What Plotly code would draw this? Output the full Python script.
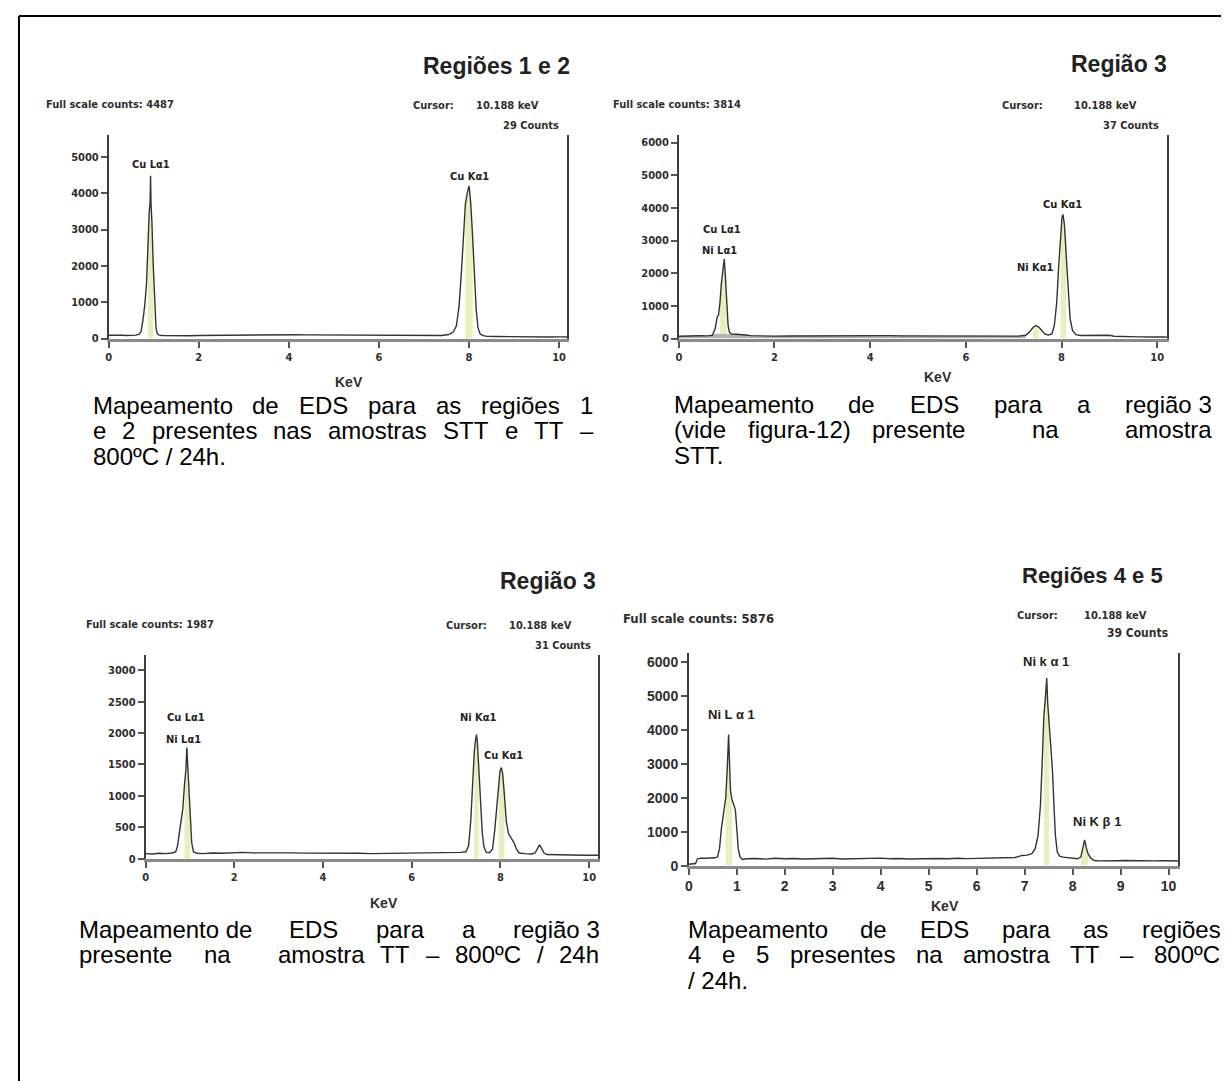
import re
import plotly.graph_objects as go
import numpy as np

W, H = 1229, 1081

# ---------------- data (keV, counts) ----------------
spectrum_1 = [(0.00, 90), (0.10, 95), (0.20, 88), (0.30, 92), (0.40, 85), (0.50, 90), (0.60, 95),
              (0.68, 120), (0.72, 200), (0.76, 500), (0.80, 900), (0.84, 1500), (0.87, 2600),
              (0.90, 3500), (0.92, 3750), (0.93, 4480), (0.94, 3700), (0.96, 3200), (0.99, 2000),
              (1.02, 900), (1.05, 300), (1.08, 130), (1.12, 95), (1.20, 85), (1.40, 80), (1.60, 82),
              (1.80, 78), (2.00, 85), (2.20, 88), (2.40, 92), (2.60, 95), (2.80, 100), (3.00, 105),
              (3.20, 110), (3.40, 108), (3.60, 112), (3.80, 105), (4.00, 110), (4.20, 104),
              (4.40, 100), (4.60, 98), (4.80, 95), (5.00, 92), (5.20, 90), (5.40, 88), (5.60, 86),
              (5.80, 84), (6.00, 82), (6.20, 80), (6.40, 80), (6.60, 78), (6.80, 76), (7.00, 75),
              (7.20, 78), (7.40, 85), (7.55, 110), (7.65, 180), (7.72, 350), (7.78, 900),
              (7.83, 1800), (7.88, 2900), (7.92, 3700), (7.96, 4000), (7.99, 4150), (8.00, 4200),
              (8.01, 4100), (8.04, 3700), (8.08, 2800), (8.12, 1700), (8.16, 800), (8.20, 300),
              (8.25, 120), (8.32, 80), (8.40, 60), (8.60, 55), (8.80, 50), (9.00, 52), (9.20, 48),
              (9.40, 45), (9.60, 47), (9.80, 44), (10.00, 45), (10.18, 43)]

spectrum_2 = [(0.00, 70), (0.15, 80), (0.30, 75), (0.45, 85), (0.60, 80), (0.70, 100), (0.76, 300),
              (0.80, 650), (0.83, 720), (0.86, 1100), (0.89, 1700), (0.92, 2050), (0.95, 2430),
              (0.97, 2000), (1.00, 1100), (1.03, 400), (1.06, 180), (1.10, 140), (1.20, 130),
              (1.30, 125), (1.40, 110), (1.50, 90), (1.70, 80), (2.00, 75), (2.30, 78), (2.60, 80),
              (2.90, 90), (3.20, 95), (3.50, 100), (3.80, 95), (4.10, 92), (4.40, 88), (4.70, 82),
              (5.00, 80), (5.30, 78), (5.60, 76), (5.90, 75), (6.20, 74), (6.50, 72), (6.80, 72),
              (7.10, 75), (7.25, 100), (7.33, 200), (7.40, 330), (7.46, 400), (7.52, 360),
              (7.58, 250), (7.65, 140), (7.72, 110), (7.80, 140), (7.85, 400), (7.90, 1100),
              (7.94, 2200), (7.98, 3200), (8.01, 3700), (8.03, 3800), (8.06, 3500), (8.10, 2500),
              (8.14, 1400), (8.18, 600), (8.23, 250), (8.30, 120), (8.40, 95), (8.60, 100),
              (8.80, 110), (9.00, 100), (9.10, 70), (9.30, 55), (9.60, 50), (9.90, 48), (10.20, 46)]

spectrum_3 = [(0.00, 80), (0.15, 75), (0.30, 85), (0.45, 80), (0.60, 90), (0.68, 110), (0.72, 200),
              (0.76, 400), (0.80, 560), (0.84, 800), (0.88, 1200), (0.91, 1420), (0.93, 1770),
              (0.95, 1450), (0.98, 1100), (1.01, 600), (1.04, 250), (1.08, 110), (1.15, 85),
              (1.30, 80), (1.50, 90), (1.70, 85), (2.00, 95), (2.20, 100), (2.40, 92), (2.70, 95),
              (3.00, 90), (3.30, 92), (3.60, 88), (3.90, 90), (4.20, 86), (4.50, 88), (4.80, 85),
              (5.10, 80), (5.40, 82), (5.70, 80), (6.00, 84), (6.30, 86), (6.60, 88), (6.90, 95),
              (7.10, 100), (7.22, 110), (7.28, 200), (7.33, 600), (7.37, 1200), (7.41, 1700),
              (7.44, 1900), (7.46, 1975), (7.48, 1850), (7.51, 1500), (7.55, 900), (7.59, 400),
              (7.63, 180), (7.68, 100), (7.75, 95), (7.82, 150), (7.87, 450), (7.92, 900),
              (7.96, 1250), (7.99, 1400), (8.02, 1450), (8.05, 1350), (8.09, 1000), (8.13, 600),
              (8.18, 400), (8.24, 320), (8.30, 260), (8.36, 150), (8.42, 90), (8.55, 80),
              (8.70, 75), (8.78, 90), (8.83, 160), (8.88, 220), (8.93, 160), (8.98, 90),
              (9.05, 65), (9.30, 60), (9.60, 58), (9.90, 55), (10.20, 55)]

spectrum_4 = [(0.00, 40), (0.08, 50), (0.14, 60), (0.18, 200), (0.25, 220), (0.35, 215), (0.45, 225),
              (0.55, 230), (0.60, 260), (0.64, 500), (0.68, 1100), (0.71, 1400), (0.74, 1600),
              (0.77, 2000), (0.80, 2800), (0.83, 3860), (0.85, 3000), (0.87, 2200), (0.90, 1950),
              (0.94, 1800), (0.97, 1650), (1.00, 1100), (1.03, 500), (1.07, 250), (1.12, 180),
              (1.20, 200), (1.40, 210), (1.60, 190), (1.80, 215), (2.00, 200), (2.20, 210),
              (2.40, 195), (2.60, 205), (2.80, 200), (3.00, 215), (3.20, 195), (3.40, 205),
              (3.60, 200), (3.80, 210), (4.00, 220), (4.20, 200), (4.40, 210), (4.60, 195),
              (4.80, 205), (5.00, 200), (5.20, 210), (5.40, 200), (5.60, 215), (5.80, 205),
              (6.00, 210), (6.20, 220), (6.40, 215), (6.60, 230), (6.80, 240), (6.95, 300),
              (7.05, 310), (7.15, 350), (7.22, 500), (7.28, 900), (7.33, 1800), (7.37, 3200),
              (7.40, 4400), (7.43, 4900), (7.46, 5530), (7.48, 4800), (7.51, 4200), (7.55, 3650),
              (7.58, 2800), (7.61, 1800), (7.64, 900), (7.68, 400), (7.73, 280), (7.80, 250),
              (7.90, 240), (8.00, 220), (8.10, 200), (8.17, 250), (8.22, 600), (8.25, 760),
              (8.28, 550), (8.32, 350), (8.38, 220), (8.45, 150), (8.55, 140), (8.70, 150),
              (8.90, 145), (9.10, 150), (9.30, 140), (9.50, 145), (9.70, 140), (9.90, 145),
              (10.10, 140), (10.25, 135)]

# peak windows (centre keV) marked with the pale yellow band
roi_1 = [0.93, 8.00]
roi_2 = [0.93, 7.46, 8.03]
roi_3 = [0.93, 7.46, 8.02]
roi_4 = [0.84, 7.46, 8.25]

# peak labels: (text, keV, counts)
labels_1 = [("Cu Lα1", 0.93, 4780), ("Cu Kα1", 8.0, 4450)]
labels_2 = [("Cu Lα1", 0.90, 3340), ("Ni Lα1", 0.84, 2700), ("Cu Kα1", 8.02, 4100), ("Ni Kα1", 7.46, 2160)]
labels_3 = [("Cu Lα1", 0.92, 2240), ("Ni Lα1", 0.85, 1900), ("Ni Kα1", 7.50, 2240), ("Cu Kα1", 8.06, 1640)]
labels_4 = [("Ni L α 1", 0.89, 4440), ("Ni k α 1", 7.44, 6020), ("Ni K β 1", 8.50, 1290)]

titles = ["Regiões 1 e 2", "Região 3", "Região 3", "Regiões 4 e 5"]
full_scale = ["Full scale counts: 4487", "Full scale counts: 3814", "Full scale counts: 1987", "Full scale counts: 5876"]
cursor_kev = ["10.188 keV", "10.188 keV", "10.188 keV", "10.188 keV"]
cursor_counts = ["29 Counts", "37 Counts", "31 Counts", "39 Counts"]

y_ticks_1 = [0, 1000, 2000, 3000, 4000, 5000]
y_ticks_2 = [0, 1000, 2000, 3000, 4000, 5000, 6000]
y_ticks_3 = [0, 500, 1000, 1500, 2000, 2500, 3000]
y_ticks_4 = [0, 1000, 2000, 3000, 4000, 5000, 6000]
x_ticks_even = [0, 2, 4, 6, 8, 10]
x_ticks_all = [0, 1, 2, 3, 4, 5, 6, 7, 8, 9, 10]

# captions (justified lines; runs of spaces are stretched in proportion to their length,
# non-breaking spaces stay tight)
caption_1 = ["Mapeamento de EDS para as regiões 1", "e 2 presentes nas amostras STT e TT –", "800ºC / 24h."]
caption_2 = ["Mapeamento de EDS para a região\u00a03", "(vide figura-12) presente   na   amostra", "STT."]
caption_3 = ["Mapeamento\u00a0de  EDS  para  a  região\u00a03",
             "presente  na   amostra TT – 800ºC / 24h"]
caption_4 = ["Mapeamento de EDS para as regiões", "4 e 5 presentes na amostra TT – 800ºC", "/ 24h."]

# ---------------- helpers ----------------
def px(x):
    return x / W


def py(y):
    return 1 - y / H


NARROW = "Liberation Sans Narrow, Arial Narrow, DejaVu Sans Condensed, Liberation Sans, sans-serif"
ARIAL = "Liberation Sans, Arial, Helvetica, sans-serif"
INK = "#2e2e2e"

ARIAL_W = {' ': 278, '\u00a0': 278, '(': 333, ')': 333, '-': 333, '/': 278, '.': 278, '–': 556,
           'º': 365, 'A': 667, 'C': 722, 'D': 722, 'E': 667, 'M': 833, 'S': 667, 'T': 611,
           'a': 556, 'b': 556, 'c': 500, 'd': 556, 'e': 556, 'f': 278, 'g': 556, 'h': 556,
           'i': 222, 'l': 222, 'm': 833, 'n': 556, 'o': 556, 'p': 556, 'r': 333, 's': 500,
           't': 278, 'u': 556, 'v': 500, 'ã': 556, 'õ': 556}


def text_w(s, size):
    return sum(ARIAL_W.get(ch, 556) for ch in s) * size / 1000.0


fig = go.Figure()
annotations = []
shapes = []
layout = {}


def ann(text, x, y, size, family=NARROW, anchor='left', bold=True, color=INK):
    annotations.append(dict(text=f"<b>{text}</b>" if bold else text, x=px(x), y=py(y), xref='paper',
                            yref='paper', xanchor=anchor, yanchor='middle', showarrow=False,
                            font=dict(family=family, size=size, color=color)))


CAP_SIZE = 24


def word(text, x, y, size):
    annotations.append(dict(text=text, x=px(x - 1), y=py(y), xref='paper', yref='paper',
                            xanchor='left', yanchor='middle', showarrow=False,
                            font=dict(family=ARIAL, size=size, color='black')))


def caption(lines, x0, x1, y0, justify, size=CAP_SIZE, step=26):
    for k, line in enumerate(lines):
        y = y0 + k * step
        if not justify[k]:
            word(line, x0, y, size)
            continue
        parts = re.split(r'( +)', line)
        tokens = parts[0::2]
        weights = [len(s) for s in parts[1::2]]
        free = x1 - x0 - sum(text_w(t, size) for t in tokens)
        unit = free / sum(weights)
        x = x0
        for j, t in enumerate(tokens):
            word(t, x, y, size)
            if j < len(weights):
                x += text_w(t, size) + unit * weights[j]


panels = [
    dict(spec=spectrum_1, roi=roi_1, labels=labels_1, xd=(97, 557), yd=(333, 128), xr=10.18, yr=5600,
         xt=x_ticks_even, yt=y_ticks_1, tick_font=dict(family=NARROW, size=11, color=INK),
         lab_font=(NARROW, 11), band=None),
    dict(spec=spectrum_2, roi=roi_2, labels=labels_2, xd=(669, 1159), yd=(333, 128), xr=10.21, yr=6230,
         xt=x_ticks_even, yt=y_ticks_2, tick_font=dict(family=NARROW, size=11, color=INK),
         lab_font=(NARROW, 11), band=7.3),
    dict(spec=spectrum_3, roi=roi_3, labels=labels_3, xd=(134, 588), yd=(857, 652), xr=10.2, yr=3240,
         xt=x_ticks_even, yt=y_ticks_3, tick_font=dict(family=NARROW, size=11, color=INK),
         lab_font=(NARROW, 11), band=None),
    dict(spec=spectrum_4, roi=roi_4, labels=labels_4, xd=(679, 1170), yd=(864, 650), xr=10.2, yr=6260,
         xt=x_ticks_all, yt=y_ticks_4, tick_font=dict(family=ARIAL, size=14, color=INK),
         lab_font=(ARIAL, 13), band=None),
]

for i, p in enumerate(panels, start=1):
    sx = '' if i == 1 else str(i)
    kev = np.array([a for a, _ in p['spec']])
    cts = np.array([b for _, b in p['spec']])
    # pale yellow peak windows, taken from the spectrum points themselves
    for c in p['roi']:
        m = np.abs(kev - c) <= 0.085
        fig.add_trace(go.Scatter(x=kev[m], y=cts[m], mode='lines', fill='tozeroy',
                                 fillcolor='rgba(230,234,176,0.85)', line=dict(width=0),
                                 xaxis='x' + sx, yaxis='y' + sx, hoverinfo='skip', showlegend=False))
    if p['band'] is not None:
        m = kev <= p['band']
        fig.add_trace(go.Scatter(x=kev[m], y=np.minimum(cts[m], 150), mode='lines', fill='tozeroy',
                                 fillcolor='#b4b4b4', line=dict(width=0), xaxis='x' + sx,
                                 yaxis='y' + sx, hoverinfo='skip', showlegend=False))
    fig.add_trace(go.Scatter(x=kev, y=cts, mode='lines', line=dict(color='#333333', width=1.4),
                             xaxis='x' + sx, yaxis='y' + sx, showlegend=False))
    layout['xaxis' + sx] = dict(domain=[px(p['xd'][0]), px(p['xd'][1])], range=[0, p['xr']],
                                anchor='y' + sx, showgrid=False, zeroline=False, showline=True,
                                linecolor='#8a8a8a', linewidth=3, ticks='outside', ticklen=6,
                                tickwidth=1.5, tickcolor='#555', tickvals=p['xt'],
                                ticktext=[f"<b>{v}</b>" for v in p['xt']], tickfont=p['tick_font'],
                                fixedrange=True)
    layout['yaxis' + sx] = dict(domain=[py(p['yd'][0]), py(p['yd'][1])], range=[0, p['yr']],
                                anchor='x' + sx, showgrid=False, zeroline=False, showline=True,
                                mirror=True, linecolor='#3c3c3c', linewidth=1.6, ticks='outside',
                                ticklen=6, tickwidth=1.5, tickcolor='#555', tickvals=p['yt'],
                                ticktext=[f"<b>{v}</b>" for v in p['yt']], tickfont=p['tick_font'],
                                fixedrange=True)
    fam, size = p['lab_font']
    for text, xk, yc in p['labels']:
        annotations.append(dict(text=f"<b>{text}</b>", x=xk, y=yc, xref='x' + sx, yref='y' + sx,
                                xanchor='center', yanchor='middle', showarrow=False,
                                font=dict(family=fam, size=size, color='#222')))

# ---------------- panel texts ----------------
# panel 1
ann(titles[0], 562, 58, 23, family=ARIAL, anchor='right', color='#222')
ann(full_scale[0], 32, 97, 11)
ann("Cursor:", 400, 98, 11)
ann(cursor_kev[0], 531, 98, 11, anchor='right')
ann(cursor_counts[0], 551, 118, 11, anchor='right')
ann("KeV", 322, 377, 14, family=ARIAL)
# panel 2
ann(titles[1], 1161, 56, 23, family=ARIAL, anchor='right', color='#222')
ann(full_scale[1], 601, 97, 11)
ann("Cursor:", 991, 98, 11)
ann(cursor_kev[1], 1131, 98, 11, anchor='right')
ann(cursor_counts[1], 1153, 118, 11, anchor='right')
ann("KeV", 913, 372, 14, family=ARIAL)
# panel 3
ann(titles[2], 588, 577, 23, family=ARIAL, anchor='right', color='#222')
ann(full_scale[2], 72, 621, 11)
ann("Cursor:", 433, 622, 11)
ann(cursor_kev[2], 564, 622, 11, anchor='right')
ann(cursor_counts[2], 583, 642, 11, anchor='right')
ann("KeV", 357, 902, 14, family=ARIAL)
# panel 4
ann(titles[3], 1157, 572, 22, family=ARIAL, anchor='right', color='#222')
ann(full_scale[3], 611, 615, 13)
ann("Cursor:", 1006, 612, 11)
ann(cursor_kev[3], 1141, 612, 11, anchor='right')
ann(cursor_counts[3], 1162, 630, 12, anchor='right')
ann("KeV", 920, 905, 14, family=ARIAL)

# ---------------- captions ----------------
caption(caption_1, 80, 582, 400, justify=[True, True, False])
caption(caption_2, 663, 1202, 399, justify=[True, True, False])
caption(caption_3, 66, 588, 928, justify=[True, True])
caption(caption_4, 677, 1211, 928, justify=[True, True, False])

# outer frame (top and left edges visible in the picture)
shapes.append(dict(type='line', xref='paper', yref='paper', x0=px(7), x1=1, y0=py(8), y1=py(8),
                   line=dict(color='black', width=2)))
shapes.append(dict(type='line', xref='paper', yref='paper', x0=px(7), x1=px(7), y0=py(8), y1=0,
                   line=dict(color='black', width=2)))

fig.update_layout(width=W, height=H, margin=dict(l=0, r=0, t=0, b=0), paper_bgcolor='white',
                  plot_bgcolor='white', showlegend=False, annotations=annotations, shapes=shapes,
                  **layout)

fig.write_html("out.html")
